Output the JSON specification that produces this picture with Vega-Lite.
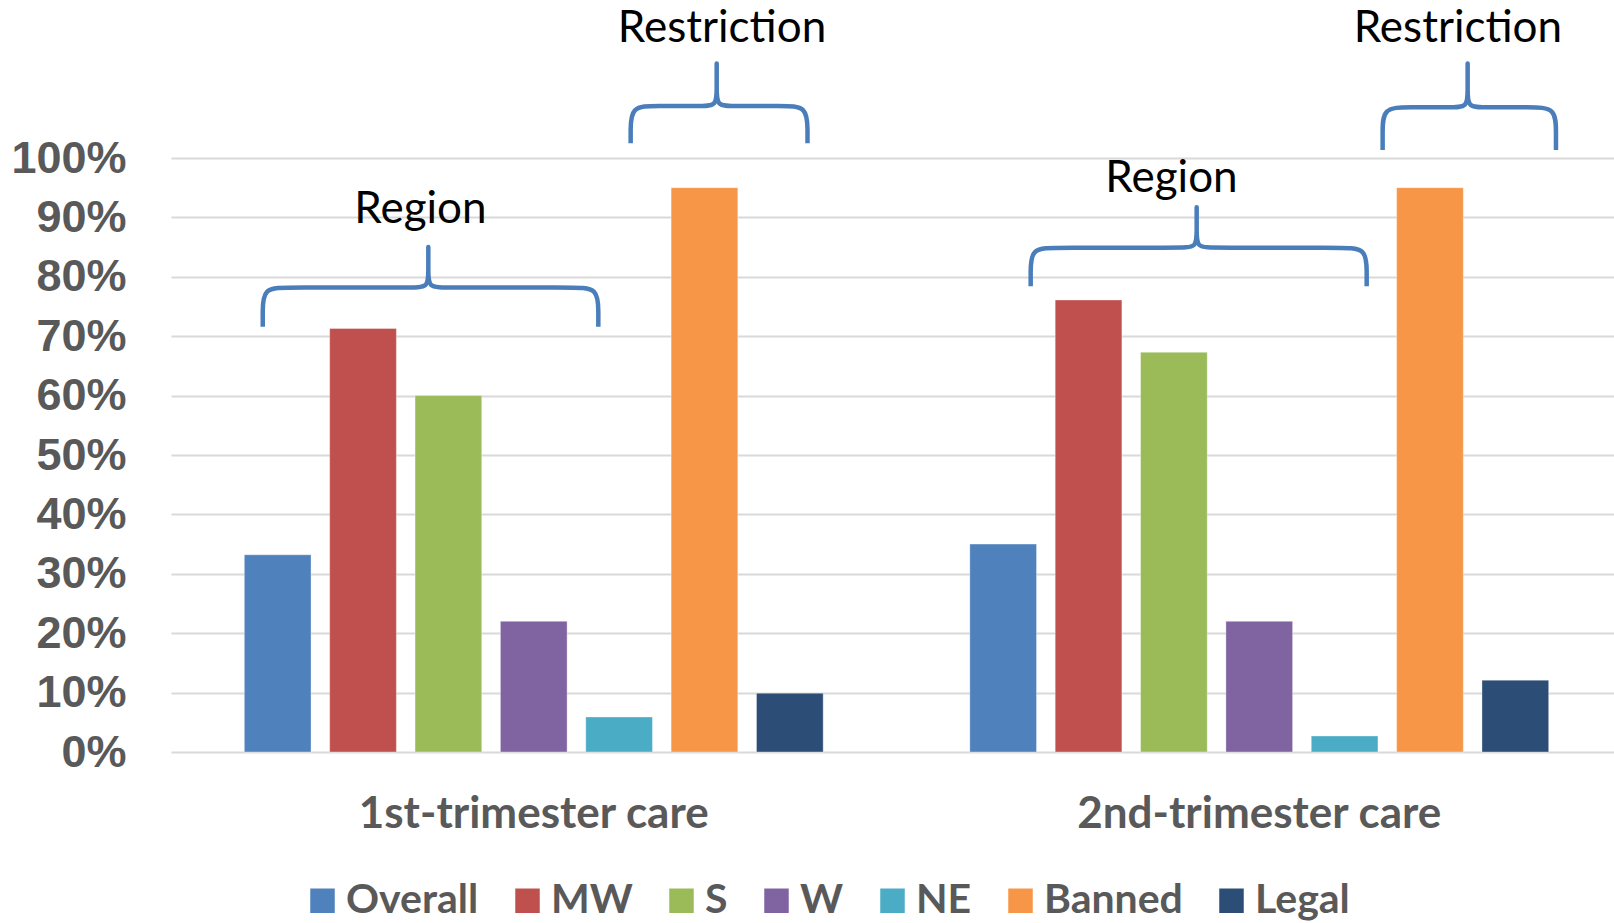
{
  "$schema": "https://vega.github.io/schema/vega-lite/v6.json",
  "autosize": {"type": "none"},
  "width": 1443,
  "height": 752,
  "padding": {"left": 171, "top": 0, "right": 0, "bottom": 171},
  "background": "white",
  "config": {"view": {"stroke": null}},
  "layer": [
    {
      "data": {"values": [
        {"care": "1st-trimester care", "series": "Overall", "value": 0.332},
        {"care": "1st-trimester care", "series": "MW", "value": 0.713},
        {"care": "1st-trimester care", "series": "S", "value": 0.600},
        {"care": "1st-trimester care", "series": "W", "value": 0.220},
        {"care": "1st-trimester care", "series": "NE", "value": 0.059},
        {"care": "1st-trimester care", "series": "Banned", "value": 0.950},
        {"care": "1st-trimester care", "series": "Legal", "value": 0.099},
        {"care": "2nd-trimester care", "series": "Overall", "value": 0.350},
        {"care": "2nd-trimester care", "series": "MW", "value": 0.761},
        {"care": "2nd-trimester care", "series": "S", "value": 0.673},
        {"care": "2nd-trimester care", "series": "W", "value": 0.220},
        {"care": "2nd-trimester care", "series": "NE", "value": 0.027},
        {"care": "2nd-trimester care", "series": "Banned", "value": 0.950},
        {"care": "2nd-trimester care", "series": "Legal", "value": 0.121}
      ]},
      "mark": {"type": "bar", "stroke": "white", "strokeWidth": 0.6, "strokeOpacity": 0.6},
      "encoding": {
        "x": {
          "field": "care", "type": "nominal", "sort": null,
          "scale": {"range": [0, 1451], "paddingInner": 0, "paddingOuter": 0},
          "axis": {
            "title": null, "domain": false, "ticks": false, "tickSize": 0,
            "labelAngle": 0, "labelFont": "Lato", "labelFontWeight": "bold",
            "labelFontSize": 44, "labelColor": "#595959", "labelLimit": 0,
            "labelBaseline": "alphabetic", "labelPadding": 75
          }
        },
        "xOffset": {
          "field": "series", "type": "nominal",
          "sort": ["Overall", "MW", "S", "W", "NE", "Banned", "Legal"],
          "scale": {"paddingInner": 0.2185, "paddingOuter": 0.859}
        },
        "y": {
          "field": "value", "type": "quantitative",
          "scale": {"domain": [0, 1.266], "nice": false, "zero": true},
          "axis": {
            "title": null, "domain": false, "ticks": false, "tickSize": 0,
            "values": [0, 0.1, 0.2, 0.3, 0.4, 0.5, 0.6, 0.7, 0.8, 0.9, 1.0],
            "format": ".0%", "labelPadding": 45,
            "labelFont": "Liberation Sans", "labelFontWeight": "bold",
            "labelFontSize": 45, "labelColor": "#595959",
            "grid": true, "gridColor": "#d9d9d9", "gridWidth": 2.2
          }
        },
        "color": {
          "field": "series", "type": "nominal",
          "scale": {
            "domain": ["Overall", "MW", "S", "W", "NE", "Banned", "Legal"],
            "range": ["#4F81BD", "#C0504D", "#9BBB59", "#8064A2", "#4BACC6", "#F79646", "#2C4D75"]
          },
          "legend": {
            "title": null, "orient": "none", "direction": "horizontal",
            "legendX": 131, "legendY": 880, "padding": 0,
            "symbolType": "square", "symbolSize": 600, "symbolStrokeWidth": 0,
            "labelFont": "Lato", "labelFontWeight": "bold", "labelFontSize": 41,
            "labelColor": "#595959", "labelOffset": 3, "columnPadding": 28, "labelLimit": 0
          }
        }
      }
    },
    {
      "data": {"values": [
        {"b": "R1", "i": 1, "x": -0.173, "y": 0.716},
        {"b": "R1", "i": 2, "x": -0.173, "y": 0.738},
        {"b": "R1", "i": 3, "x": -0.173, "y": 0.782},
        {"b": "R1", "i": 4, "x": 0.127, "y": 0.782},
        {"b": "R1", "i": 5, "x": 1.577, "y": 0.782},
        {"b": "R1", "i": 6, "x": 1.767, "y": 0.782},
        {"b": "R1", "i": 7, "x": 1.767, "y": 0.809},
        {"b": "R1", "i": 8, "x": 1.767, "y": 0.850},
        {"b": "R1", "i": 9, "x": 1.767, "y": 0.850},
        {"b": "R1", "i": 10, "x": 1.767, "y": 0.850},
        {"b": "R1", "i": 11, "x": 1.767, "y": 0.809},
        {"b": "R1", "i": 12, "x": 1.767, "y": 0.782},
        {"b": "R1", "i": 13, "x": 1.957, "y": 0.782},
        {"b": "R1", "i": 14, "x": 3.459, "y": 0.782},
        {"b": "R1", "i": 15, "x": 3.759, "y": 0.782},
        {"b": "R1", "i": 16, "x": 3.759, "y": 0.738},
        {"b": "R1", "i": 17, "x": 3.759, "y": 0.716},

        {"b": "S1", "i": 1, "x": 4.138, "y": 1.025},
        {"b": "S1", "i": 2, "x": 4.138, "y": 1.0435},
        {"b": "S1", "i": 3, "x": 4.138, "y": 1.0875},
        {"b": "S1", "i": 4, "x": 4.438, "y": 1.0875},
        {"b": "S1", "i": 5, "x": 4.956, "y": 1.0875},
        {"b": "S1", "i": 6, "x": 5.146, "y": 1.0875},
        {"b": "S1", "i": 7, "x": 5.146, "y": 1.1145},
        {"b": "S1", "i": 8, "x": 5.146, "y": 1.159},
        {"b": "S1", "i": 9, "x": 5.146, "y": 1.159},
        {"b": "S1", "i": 10, "x": 5.146, "y": 1.159},
        {"b": "S1", "i": 11, "x": 5.146, "y": 1.1145},
        {"b": "S1", "i": 12, "x": 5.146, "y": 1.0875},
        {"b": "S1", "i": 13, "x": 5.336, "y": 1.0875},
        {"b": "S1", "i": 14, "x": 5.910, "y": 1.0875},
        {"b": "S1", "i": 15, "x": 6.210, "y": 1.0875},
        {"b": "S1", "i": 16, "x": 6.210, "y": 1.0435},
        {"b": "S1", "i": 17, "x": 6.210, "y": 1.025},

        {"b": "R2", "i": 1, "x": 8.825, "y": 0.784},
        {"b": "R2", "i": 2, "x": 8.825, "y": 0.805},
        {"b": "R2", "i": 3, "x": 8.825, "y": 0.849},
        {"b": "R2", "i": 4, "x": 9.125, "y": 0.849},
        {"b": "R2", "i": 5, "x": 10.580, "y": 0.849},
        {"b": "R2", "i": 6, "x": 10.770, "y": 0.849},
        {"b": "R2", "i": 7, "x": 10.770, "y": 0.876},
        {"b": "R2", "i": 8, "x": 10.770, "y": 0.917},
        {"b": "R2", "i": 9, "x": 10.770, "y": 0.917},
        {"b": "R2", "i": 10, "x": 10.770, "y": 0.917},
        {"b": "R2", "i": 11, "x": 10.770, "y": 0.876},
        {"b": "R2", "i": 12, "x": 10.770, "y": 0.849},
        {"b": "R2", "i": 13, "x": 10.960, "y": 0.849},
        {"b": "R2", "i": 14, "x": 12.462, "y": 0.849},
        {"b": "R2", "i": 15, "x": 12.762, "y": 0.849},
        {"b": "R2", "i": 16, "x": 12.762, "y": 0.805},
        {"b": "R2", "i": 17, "x": 12.762, "y": 0.784},

        {"b": "S2", "i": 1, "x": 12.949, "y": 1.0135},
        {"b": "S2", "i": 2, "x": 12.949, "y": 1.0413},
        {"b": "S2", "i": 3, "x": 12.949, "y": 1.0853},
        {"b": "S2", "i": 4, "x": 13.249, "y": 1.0853},
        {"b": "S2", "i": 5, "x": 13.755, "y": 1.0853},
        {"b": "S2", "i": 6, "x": 13.945, "y": 1.0853},
        {"b": "S2", "i": 7, "x": 13.945, "y": 1.1123},
        {"b": "S2", "i": 8, "x": 13.945, "y": 1.159},
        {"b": "S2", "i": 9, "x": 13.945, "y": 1.159},
        {"b": "S2", "i": 10, "x": 13.945, "y": 1.159},
        {"b": "S2", "i": 11, "x": 13.945, "y": 1.1123},
        {"b": "S2", "i": 12, "x": 13.945, "y": 1.0853},
        {"b": "S2", "i": 13, "x": 14.135, "y": 1.0853},
        {"b": "S2", "i": 14, "x": 14.680, "y": 1.0853},
        {"b": "S2", "i": 15, "x": 14.980, "y": 1.0853},
        {"b": "S2", "i": 16, "x": 14.980, "y": 1.0413},
        {"b": "S2", "i": 17, "x": 14.980, "y": 1.0135}
      ]},
      "mark": {"type": "line", "interpolate": "basis", "color": "#4A7EBB", "strokeWidth": 4.5, "strokeCap": "butt", "strokeJoin": "round", "clip": false},
      "encoding": {
        "x": {"field": "x", "type": "quantitative", "scale": {"domain": [-1.248, 15.66], "nice": false, "zero": false}, "axis": null},
        "y": {"field": "y", "type": "quantitative"},
        "detail": {"field": "b"},
        "order": {"field": "i", "type": "quantitative"}
      }
    },
    {
      "data": {"values": [
        {"label": "Region", "x": 1.675, "y": 0.890},
        {"label": "Restriction", "x": 5.208, "y": 1.196},
        {"label": "Region", "x": 10.475, "y": 0.943},
        {"label": "Restriction", "x": 13.831, "y": 1.196}
      ]},
      "mark": {"type": "text", "font": "Lato", "fontSize": 44, "color": "#000000", "align": "center", "baseline": "alphabetic", "clip": false},
      "encoding": {
        "x": {"field": "x", "type": "quantitative", "scale": {"domain": [-1.248, 15.66], "nice": false, "zero": false}, "axis": null},
        "y": {"field": "y", "type": "quantitative"},
        "text": {"field": "label"}
      }
    }
  ],
  "resolve": {"scale": {"x": "independent"}}
}
